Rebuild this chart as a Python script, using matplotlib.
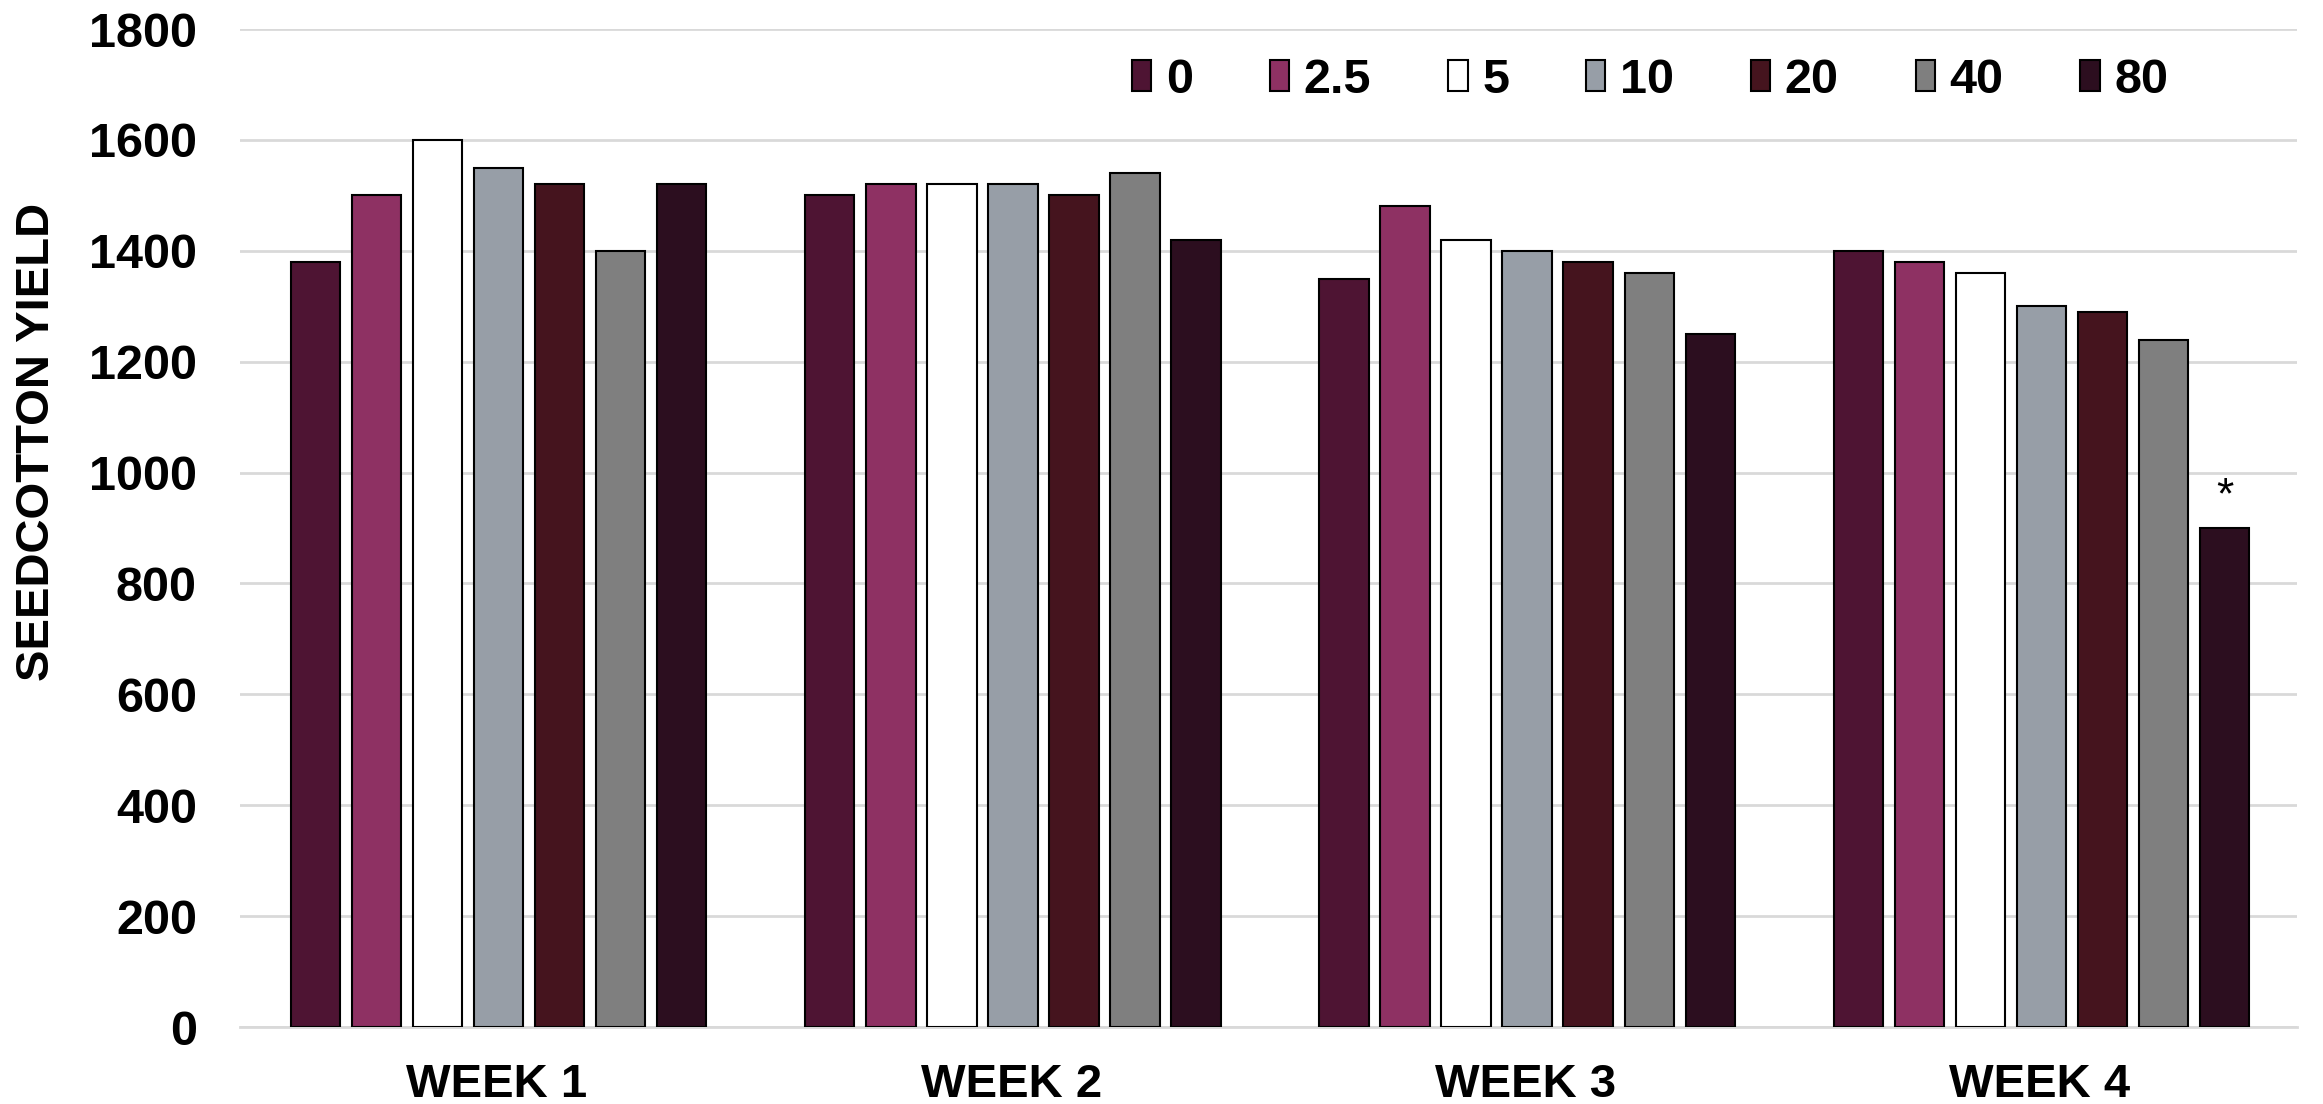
import numpy as np
import matplotlib
matplotlib.use('Agg')
import matplotlib.pyplot as plt

plt.rcParams['font.family'] = ['Liberation Sans', 'DejaVu Sans']

# donnees
weeks = ['WEEK 1', 'WEEK 2', 'WEEK 3', 'WEEK 4']
doses = ['0', '2.5', '5', '10', '20', '40', '80']
y_0 = [1380, 1500, 1350, 1400]
y_2_5 = [1500, 1520, 1480, 1380]
y_5 = [1600, 1520, 1420, 1360]
y_10 = [1550, 1520, 1400, 1300]
y_20 = [1520, 1500, 1380, 1290]
y_40 = [1400, 1540, 1360, 1240]
y_80 = [1520, 1420, 1250, 900]
series = [y_0, y_2_5, y_5, y_10, y_20, y_40, y_80]
colors = ['#4E1433', '#8E3163', '#FFFFFF', '#979EA7', '#45141E', '#7F7F7F', '#2C0E1F']

fig = plt.figure(figsize=(23.23, 11.04), dpi=100)
ax = fig.add_axes([0.1033, 0.0697, 0.8855, 0.904])

x = np.arange(len(weeks))
step = 0.1187
w = step * 0.81
for i, (vals, c) in enumerate(zip(series, colors)):
    ax.bar(x + (i - 3) * step + 0.003, vals, w, color=c, edgecolor='black',
           linewidth=1.5, label=doses[i], zorder=3)

# asterisque sur la derniere barre
ax.annotate('*', (x[3] + 3 * step + 0.003, y_80[3]), xytext=(0, 8),
            textcoords='offset points', ha='center', va='bottom', fontsize=32)

ax.set_xlim(-0.5, 3.5)
ax.set_ylim(0, 1800)
ax.set_yticks(np.arange(0, 1801, 200))
ax.set_xticks(x)
ax.set_xticklabels(weeks)
ax.yaxis.grid(True, color='#D9D9D9', linewidth=2, zorder=0)
ax.set_axisbelow(True)
for s in ['top', 'right', 'left']:
    ax.spines[s].set_visible(False)
ax.spines['bottom'].set_color('#D9D9D9')
ax.spines['bottom'].set_linewidth(2)
ax.tick_params(axis='y', length=0, pad=31, labelsize=35)
ax.tick_params(axis='x', length=0, pad=26, labelsize=34)
for lab in ax.get_xticklabels() + ax.get_yticklabels():
    lab.set_fontweight('bold')

fig.text(37 / 2323, 1 - 442 / 1104, 'SEEDCOTTON YIELD', rotation=90,
         ha='center', va='center', fontsize=34, fontweight='bold')

leg = ax.legend(ncol=7, loc='center right', bbox_to_anchor=(0.9335, 0.9275),
                bbox_transform=fig.transFigure, frameon=False,
                prop={'size': 35, 'weight': 'bold'}, handlelength=0.4,
                handleheight=0.6, handletextpad=0.3, columnspacing=1.58,
                borderpad=0, borderaxespad=0)

plt.savefig('out.png', dpi=100)
